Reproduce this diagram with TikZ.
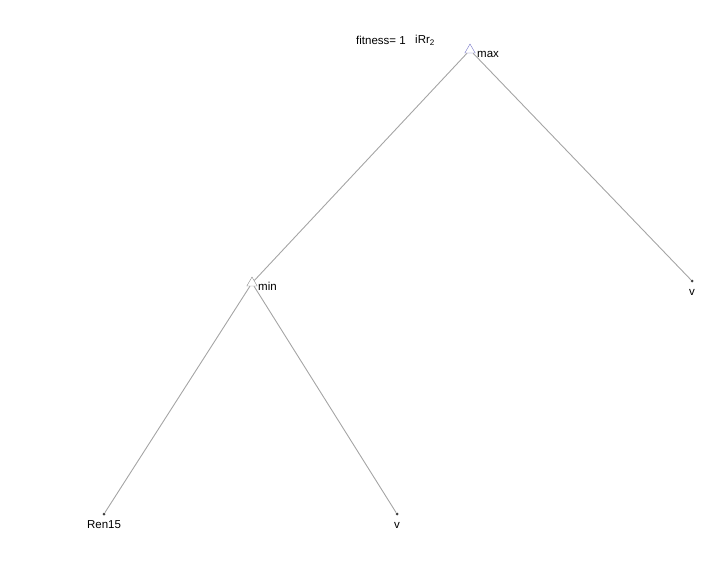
\documentclass[tikz,border=0pt]{standalone}
\usepackage{fontspec}
\setmainfont{Liberation Sans}
\usetikzlibrary{shapes.geometric}

\definecolor{edgegray}{RGB}{165,165,165}
\definecolor{opblue}{RGB}{120,120,200}
\definecolor{opgray}{RGB}{140,140,140}

\tikzset{
	opnode/.style={regular polygon,regular polygon sides=3,draw,minimum size=12pt,inner sep=0pt},
	leaf/.style={circle,fill=black!75,minimum size=3pt,inner sep=0pt},
	lbl/.style={inner sep=0pt,font=\fontsize{11.5}{13}\selectfont}
}

\begin{document}
\begin{tikzpicture}[x=1pt,y=-1pt]
	\useasboundingbox (0,0) rectangle (709,567);

	\node[lbl,anchor=west] (fit) at (356,40) {fitness= 1};
	\node[lbl,anchor=west] (name) at (415,40) {iRr\textsubscript{2}};

	\node[opnode,draw=opblue] (n1) at (470,50) {};
	\node[opnode,draw=opgray] (n2) at (252,283) {};
	\node[leaf] (n3) at (692,281) {};
	\node[leaf] (n4) at (104,514) {};
	\node[leaf] (n5) at (397,514) {};

	\node[lbl,anchor=west] (l1) at (477,54) {max};
	\node[lbl,anchor=west] (l2) at (258,286) {min};
	\node[lbl] (l3) at (692,292) {v};
	\node[lbl] (l4) at (104,525) {Ren15};
	\node[lbl] (l5) at (397,525) {v};

	\draw[color=edgegray,line width=0.9pt] (n1) -- (n2);
	\draw[color=edgegray,line width=0.9pt] (n1) -- (n3);
	\draw[color=edgegray,line width=0.9pt] (n2) -- (n4);
	\draw[color=edgegray,line width=0.9pt] (n2) -- (n5);

\end{tikzpicture}
\end{document}
